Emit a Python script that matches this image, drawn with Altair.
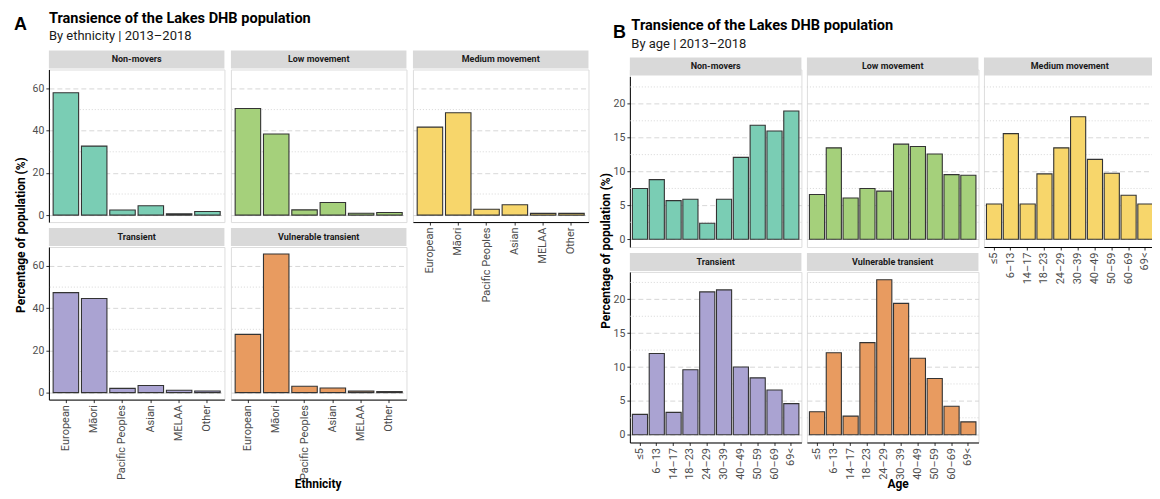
import altair as alt
import pandas as pd

FONT = "Roboto"

groups = ["Non-movers", "Low movement", "Medium movement", "Transient", "Vulnerable transient"]
colors = ["#7ACDB4", "#A5D07B", "#F7D66B", "#AAA3D2", "#E89B60"]

ethnicities = ["European", "Māori", "Pacific Peoples", "Asian", "MELAA", "Other"]
eth_nonmovers = [58.0, 32.7, 2.4, 4.4, 0.6, 1.7]
eth_low = [50.5, 38.4, 2.5, 6.0, 0.9, 1.2]
eth_medium = [41.7, 48.5, 2.8, 4.9, 0.8, 0.8]
eth_transient = [47.4, 44.6, 2.0, 3.4, 1.1, 0.8]
eth_vulnerable = [27.6, 65.7, 3.0, 2.2, 0.7, 0.5]

ages = ["≤5", "6–13", "14–17", "18–23", "24–29", "30–39", "40–49", "50–59", "60–69", "69<"]
age_nonmovers = [7.5, 8.8, 5.7, 5.9, 2.35, 5.9, 12.1, 16.85, 16.0, 18.95]
age_low = [6.6, 13.5, 6.1, 7.5, 7.1, 14.05, 13.7, 12.6, 9.55, 9.45]
age_medium = [5.2, 15.6, 5.2, 9.65, 13.5, 18.1, 11.8, 9.75, 6.5, 5.2]
age_transient = [3.0, 12.0, 3.3, 9.6, 21.1, 21.4, 10.0, 8.4, 6.6, 4.6]
age_vulnerable = [3.4, 12.1, 2.75, 13.6, 22.9, 19.4, 11.3, 8.3, 4.2, 1.9]

eth_ticks = [0, 20, 40, 60]
eth_minor = [10, 30, 50]
eth_domain = [-3.3, 69.0]
age_ticks = [0, 5, 10, 15, 20]
age_minor = [2.5, 7.5, 12.5, 17.5, 22.5]
age_domain = [-1.15, 24.05]

title_text = "Transience of the Lakes DHB population"
sub_a = "By ethnicity | 2013–2018"
sub_b = "By age | 2013–2018"
y_title = "Percentage of population (%)"


def text_layer(txt, x, y, size, bold=False, angle=0, align="left", baseline="alphabetic",
               color="#000000", font=FONT):
    kw = dict(font=font, fontSize=size, color=color, align=align, baseline=baseline)
    if bold:
        kw["fontWeight"] = "bold"
    if angle:
        kw["angle"] = angle
    return alt.Chart(pd.DataFrame({"t": [txt]})).mark_text(**kw).encode(
        x=alt.value(x), y=alt.value(y), text="t:N")


def anchor_layer(x, y):
    return alt.Chart(pd.DataFrame({"a": [0]})).mark_rect(fill="white").encode(
        x=alt.value(x), x2=alt.value(x + 1), y=alt.value(y), y2=alt.value(y + 1))


def panel(cats, vals, group, color, w, h, top, ydom, major, minor, show_y, show_x,
          extras=()):
    """h is the cell height; the plot area runs from pixel `top` to `h`."""
    df = pd.DataFrame({"cat": cats, "val": vals})
    ysc = alt.Scale(domain=ydom, range=[h, top], nice=False, zero=False)
    xsc = alt.Scale(domain=cats, paddingInner=0.1, paddingOuter=0.15)
    yaxis = alt.Axis(values=major, grid=True, gridDash=[5, 3], gridColor="#cdcdcd",
                     gridWidth=0.8, labels=show_y, ticks=show_y, domain=show_y, title=None,
                     labelFont=FONT, labelFontSize=10.5, labelColor="#4d4d4d",
                     labelPadding=2, tickSize=3, tickColor="#333333",
                     domainColor="#000000", domainWidth=1)
    if show_x:
        xaxis = alt.Axis(title=None, labelAngle=270, labelFont=FONT, labelFontSize=11,
                         labelColor="#4d4d4d", tickSize=3, tickColor="#333333",
                         domainColor="#000000", domainWidth=1, labelPadding=2, grid=False)
    else:
        xaxis = None
    rules = alt.Chart(pd.DataFrame({"v": minor})).mark_rule(
        color="#cdcdcd", strokeDash=[1, 2], strokeWidth=0.8).encode(
        y=alt.Y("v:Q", scale=ysc, axis=yaxis))
    bars = alt.Chart(df).mark_bar(fill=color, stroke="#333333", strokeWidth=1.1).encode(
        x=alt.X("cat:N", sort=cats, scale=xsc, axis=xaxis),
        y=alt.Y("val:Q", scale=ysc, axis=yaxis),
        y2=alt.datum(0))
    sd = pd.DataFrame({"g": [group]})
    strip = alt.Chart(sd).mark_rect(fill="#d9d9d9").encode(
        x=alt.value(0), x2=alt.value(w), y=alt.value(top - 19), y2=alt.value(top - 1))
    stext = alt.Chart(sd).mark_text(font=FONT, fontWeight="bold", fontSize=9,
                                    color="#1a1a1a").encode(
        x=alt.value(w / 2), y=alt.value(top - 10), text="g:N")
    return alt.layer(rules, bars, strip, stext, *extras).properties(width=w, height=h)


show_x_flags = [False, False, True, True, True]
show_y_flags = [True, False, False, True, False]

# ---- Figure A (by ethnicity) ----
wA, hA = 176, 153
eth_vals = [eth_nonmovers, eth_low, eth_medium, eth_transient, eth_vulnerable]
extrasA1 = [
    anchor_layer(-40, -60),
    text_layer("A", -35, -39.5, 18, bold=True, font="Liberation Sans"),
    text_layer(title_text, 0, -47, 14.6, bold=True),
    text_layer(sub_a, 0, -29.5, 13, color="#1a1a1a"),
    text_layer(y_title, -28, 166, 12, bold=True, angle=270, align="center", baseline="middle"),
]
extrasA4 = [text_layer("Ethnicity", 270, 242, 12, bold=True, align="center")]
panelsA = []
for i in range(5):
    ex = extrasA1 if i == 0 else (extrasA4 if i == 3 else [])
    panelsA.append(panel(ethnicities, eth_vals[i], groups[i], colors[i], wA, hA, 0,
                         eth_domain, eth_ticks, eth_minor, show_y_flags[i],
                         show_x_flags[i], ex))
figA = alt.concat(*panelsA, columns=3, spacing={"row": 25, "column": 6.5}, bounds="flush")

# ---- Figure B (by age) ----
wB, hB, offB = 172, 171, 7
age_vals = [age_nonmovers, age_low, age_medium, age_transient, age_vulnerable]
extrasB1 = [
    anchor_layer(-34, -60),
    text_layer("B", -17, -32, 18, bold=True, font="Liberation Sans"),
    text_layer(title_text, 1.5, -39.7, 14.6, bold=True),
    text_layer(sub_b, 1.5, -22, 13, color="#1a1a1a"),
    text_layer(y_title, -24, 182, 12, bold=True, angle=270, align="center", baseline="middle"),
]
extrasB4 = [text_layer("Age", 269, 217, 12, bold=True, align="center")]
panelsB = []
for i in range(5):
    ex = extrasB1 if i == 0 else (extrasB4 if i == 3 else [])
    top = offB if i < 3 else 0
    panelsB.append(panel(ages, age_vals[i], groups[i], colors[i], wB, hB + top, top,
                         age_domain, age_ticks, age_minor, show_y_flags[i],
                         show_x_flags[i], ex))
figB = alt.concat(*panelsB, columns=3, spacing={"row": 25, "column": 5.5}, bounds="flush")

chart = alt.hconcat(figA, figB, spacing=5.5).properties(
    padding={"left": 0, "top": 0, "right": -5, "bottom": -1}
).configure_view(stroke=None).configure(background="white")

chart.save("out.html", embed_options={"renderer": "svg", "actions": False})
